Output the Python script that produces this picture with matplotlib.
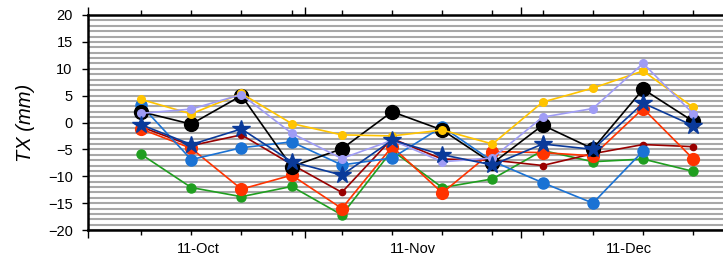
import numpy as np
import matplotlib
matplotlib.use("Agg")
import matplotlib.pyplot as plt

plt.rcParams['font.family'] = ['Liberation Sans', 'DejaVu Sans']

# weekly points, Oct - Dec
weeks = np.arange(12)
month_labels = ["11-Oct", "11-Nov", "11-Dec"]

green = [-5.9, -12.1, -13.8, -11.9, -17.2, -5.2, -12.1, -10.5, -5.2, -7.3, -6.8, -9.1]
dark_red = [-0.8, -4.3, -2.3, -7.8, -13.0, -3.0, -6.8, -7.0, -8.0, -5.8, -4.1, -4.5]
orange = [-1.2, -4.8, -12.4, -9.8, -16.0, -4.5, -13.1, -5.4, -5.6, -6.2, 2.6, -6.8]
blue = [3.2, -6.9, -4.7, -3.6, -7.9, -6.6, -0.8, -7.2, -11.2, -15.0, -5.3, np.nan]
black = [2.0, -0.3, 5.0, -8.2, -4.9, 2.0, -1.4, -7.6, -0.5, -4.9, 6.2, 0.2]
gold = [4.3, 1.6, 5.4, -0.2, -2.3, -2.5, -1.4, -4.0, 3.8, 6.4, 9.6, 2.8]
lavender = [1.7, 2.5, 5.2, -2.0, -6.7, -3.3, -7.3, -6.6, 1.0, 2.6, 11.0, 1.6]
navy = [-0.4, -4.1, -1.2, -7.3, -9.8, -3.3, -6.0, -7.9, -4.0, -5.0, 3.6, -0.6]

fig = plt.figure(figsize=(7.23, 2.6), dpi=100)
ax = fig.add_axes([88 / 723, 30 / 260, (737 - 88) / 723, 215 / 260])

# horizontal bands
ax.set_yticks(np.arange(-20, 21, 5))
ax.set_yticks(np.arange(-20, 21, 1), minor=True)
ax.yaxis.grid(True, which='both', color='#a8a8a8', linewidth=1.5)
ax.set_axisbelow(True)

ax.plot(weeks, green, '-o', color='#1f9e1f', lw=1.2, ms=6.5)
ax.plot(weeks, dark_red, '-o', color='#990000', lw=1.2, ms=4.5)
ax.plot(weeks, orange, '-o', color='#ff3300', lw=1.2, ms=8.5)
ax.plot(weeks, blue, '-o', color='#1a72d4', lw=1.2, ms=8)
ax.plot(weeks, black, '-o', color='black', lw=1.2, ms=10)
ax.plot(weeks, gold, '-o', color='#ffc400', lw=1.2, ms=5.5)
ax.plot(weeks, lavender, '-o', color='#9f9cf5', lw=1.2, ms=5.5)
ax.plot(weeks, navy, '-*', color='#0a3a9a', lw=1.2, ms=13)

ax.set_ylim(-20, 20)
ax.set_xlim(-1.056, 11.87)

# month boundaries as major ticks, each week as minor tick
ax.set_xticks([-1.056, 3.27, 7.57])
ax.set_xticklabels([])
ax.set_xticks(weeks, minor=True)
for lab, pos in zip(month_labels, [1.135, 5.42, 9.72]):
    ax.text(pos, -22.3, lab, ha='center', va='top', fontsize=10.5)

ax.tick_params(axis='x', which='major', direction='out', length=6, width=1,
               top=True, bottom=True)
ax.tick_params(axis='x', which='minor', direction='out', length=3.5, width=1,
               top=True, bottom=True)
ax.tick_params(axis='y', which='major', direction='out', length=4, width=1,
               labelsize=10.5, pad=7)
ax.tick_params(axis='y', which='minor', length=0)

for side in ['left', 'bottom', 'top']:
    ax.spines[side].set_linewidth(1.8)
ax.spines['right'].set_visible(False)

ax.set_ylabel("TX (mm)", fontsize=14.5, style='italic', labelpad=9)

fig.savefig("out.png", dpi=100)
